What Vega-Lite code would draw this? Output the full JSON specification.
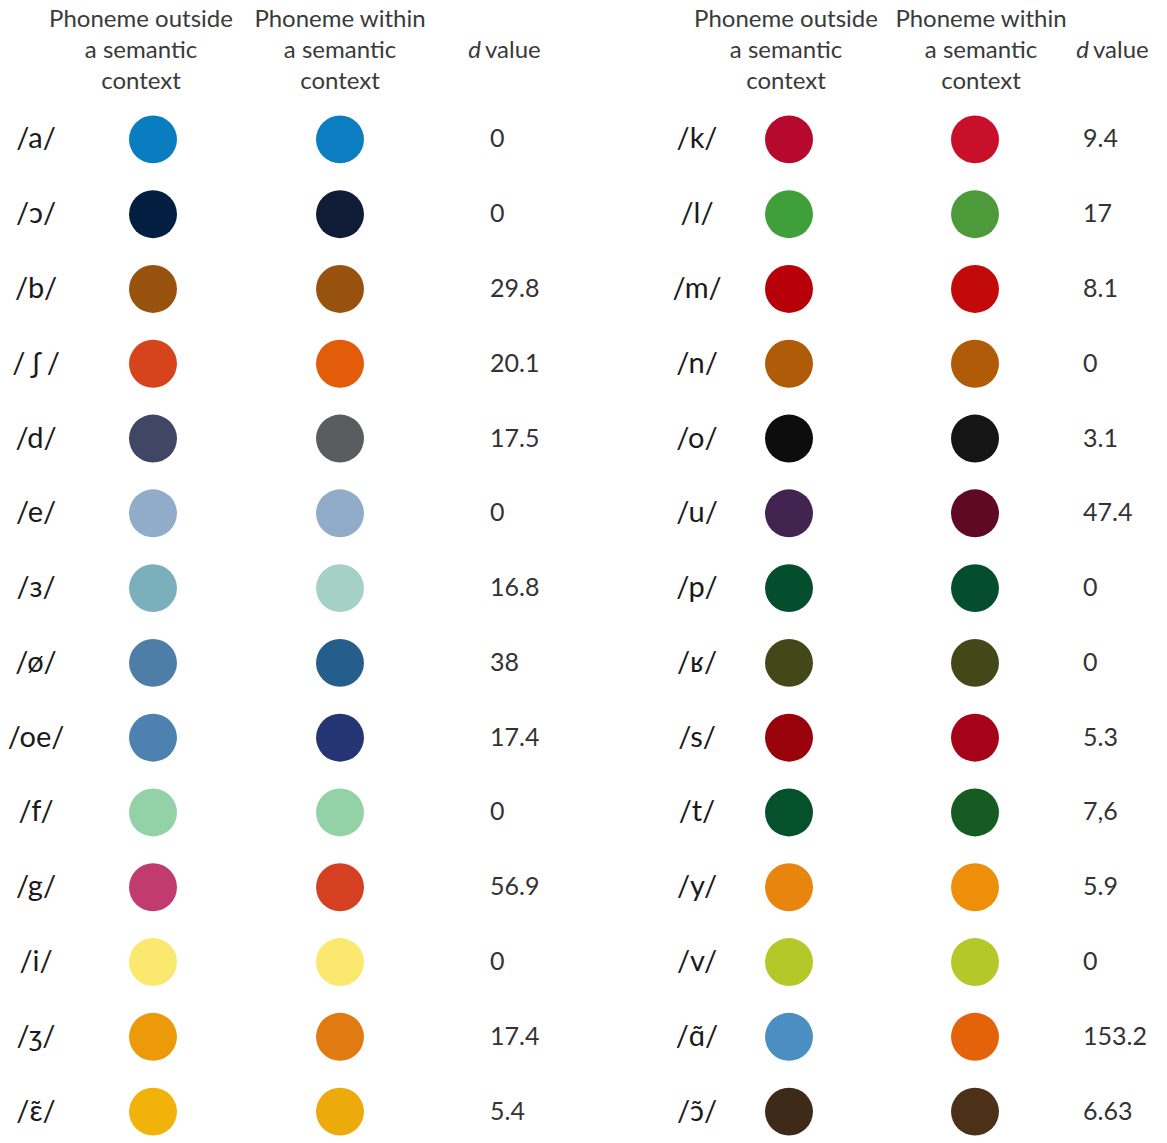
{
  "$schema": "https://vega.github.io/schema/vega-lite/v6.json",
  "padding": 0,
  "background": "white",
  "config": {"view": {"stroke": null}, "text": {"font": "Lato"}},
  "datasets": {
    "phon": [
      {"side": "L", "row": 1, "phoneme": "/a/", "d": "0"},
      {"side": "L", "row": 2, "phoneme": "/ɔ/", "d": "0"},
      {"side": "L", "row": 3, "phoneme": "/b/", "d": "29.8"},
      {"side": "L", "row": 4, "phoneme": "/ ʃ /", "d": "20.1"},
      {"side": "L", "row": 5, "phoneme": "/d/", "d": "17.5"},
      {"side": "L", "row": 6, "phoneme": "/e/", "d": "0"},
      {"side": "L", "row": 7, "phoneme": "/ɜ/", "d": "16.8"},
      {"side": "L", "row": 8, "phoneme": "/ø/", "d": "38"},
      {"side": "L", "row": 9, "phoneme": "/oe/", "d": "17.4"},
      {"side": "L", "row": 10, "phoneme": "/f/", "d": "0"},
      {"side": "L", "row": 11, "phoneme": "/g/", "d": "56.9"},
      {"side": "L", "row": 12, "phoneme": "/i/", "d": "0"},
      {"side": "L", "row": 13, "phoneme": "/ʒ/", "d": "17.4"},
      {"side": "L", "row": 14, "phoneme": "/ɛ̃/", "d": "5.4"},
      {"side": "R", "row": 1, "phoneme": "/k/", "d": "9.4"},
      {"side": "R", "row": 2, "phoneme": "/l/", "d": "17"},
      {"side": "R", "row": 3, "phoneme": "/m/", "d": "8.1"},
      {"side": "R", "row": 4, "phoneme": "/n/", "d": "0"},
      {"side": "R", "row": 5, "phoneme": "/o/", "d": "3.1"},
      {"side": "R", "row": 6, "phoneme": "/u/", "d": "47.4"},
      {"side": "R", "row": 7, "phoneme": "/p/", "d": "0"},
      {"side": "R", "row": 8, "phoneme": "/ʁ/", "d": "0"},
      {"side": "R", "row": 9, "phoneme": "/s/", "d": "5.3"},
      {"side": "R", "row": 10, "phoneme": "/t/", "d": "7,6"},
      {"side": "R", "row": 11, "phoneme": "/y/", "d": "5.9"},
      {"side": "R", "row": 12, "phoneme": "/v/", "d": "0"},
      {"side": "R", "row": 13, "phoneme": "/ɑ̃/", "d": "153.2"},
      {"side": "R", "row": 14, "phoneme": "/ɔ̃/", "d": "6.63"}
    ],
    "head": [
      {"col": "L_out", "line": 1, "text": "Phoneme outside"},
      {"col": "L_out", "line": 2, "text": "a semantic"},
      {"col": "L_out", "line": 3, "text": "context"},
      {"col": "L_in", "line": 1, "text": "Phoneme within"},
      {"col": "L_in", "line": 2, "text": "a semantic"},
      {"col": "L_in", "line": 3, "text": "context"},
      {"col": "L_d", "line": 2, "text": "value"},
      {"col": "R_out", "line": 1, "text": "Phoneme outside"},
      {"col": "R_out", "line": 2, "text": "a semantic"},
      {"col": "R_out", "line": 3, "text": "context"},
      {"col": "R_in", "line": 1, "text": "Phoneme within"},
      {"col": "R_in", "line": 2, "text": "a semantic"},
      {"col": "R_in", "line": 3, "text": "context"},
      {"col": "R_d", "line": 2, "text": "value"}
    ],
    "none": []
  },
  "spacing": 0,
  "resolve": {"scale": {"color": "independent"}},
  "vconcat": [
    {
      "spacing": 0,
      "bounds": "flush",
      "hconcat": [
        {
          "width": 282, "height": 102,
          "data": {"name": "head"},
          "transform": [{"filter": "datum.col === 'L_out'"}],
          "mark": {"type": "text", "fontSize": 24, "color": "#3a3a3a", "baseline": "middle"},
          "encoding": {
            "y": {"field": "line", "type": "ordinal", "scale": {"domain": [1, 2, 3], "padding": 0.645}, "axis": null},
            "text": {"field": "text"}
          }
        },
        {
          "width": 116, "height": 102,
          "data": {"name": "head"},
          "transform": [{"filter": "datum.col === 'L_in'"}],
          "mark": {"type": "text", "fontSize": 24, "color": "#3a3a3a", "baseline": "middle"},
          "encoding": {
            "y": {"field": "line", "type": "ordinal", "scale": {"domain": [1, 2, 3], "padding": 0.645}, "axis": null},
            "text": {"field": "text"}
          }
        },
        {
          "width": 170, "height": 102,
          "data": {"name": "head"},
          "transform": [{"filter": "datum.col === 'L_d'"}],
          "layer": [
            {
              "mark": {"type": "text", "fontSize": 24, "color": "#3a3a3a", "baseline": "middle", "align": "right", "dx": -2, "fontStyle": "italic"},
              "encoding": {
                "y": {"field": "line", "type": "ordinal", "scale": {"domain": [1, 2, 3], "padding": 0.645}, "axis": null},
                "text": {"value": "d"}
              }
            },
            {
              "mark": {"type": "text", "fontSize": 24, "color": "#3a3a3a", "baseline": "middle", "align": "left", "dx": 2},
              "encoding": {
                "y": {"field": "line", "type": "ordinal", "scale": {"domain": [1, 2, 3], "padding": 0.645}, "axis": null},
                "text": {"field": "text"}
              }
            }
          ]
        },
        {
          "width": 82, "height": 102,
          "data": {"name": "none"},
          "mark": "point"
        },
        {
          "width": 272, "height": 102,
          "data": {"name": "head"},
          "transform": [{"filter": "datum.col === 'R_out'"}],
          "mark": {"type": "text", "fontSize": 24, "color": "#3a3a3a", "baseline": "middle"},
          "encoding": {
            "y": {"field": "line", "type": "ordinal", "scale": {"domain": [1, 2, 3], "padding": 0.645}, "axis": null},
            "text": {"field": "text"}
          }
        },
        {
          "width": 118, "height": 102,
          "data": {"name": "head"},
          "transform": [{"filter": "datum.col === 'R_in'"}],
          "mark": {"type": "text", "fontSize": 24, "color": "#3a3a3a", "baseline": "middle"},
          "encoding": {
            "y": {"field": "line", "type": "ordinal", "scale": {"domain": [1, 2, 3], "padding": 0.645}, "axis": null},
            "text": {"field": "text"}
          }
        },
        {
          "width": 102, "height": 102,
          "data": {"name": "head"},
          "transform": [{"filter": "datum.col === 'R_d'"}],
          "layer": [
            {
              "mark": {"type": "text", "fontSize": 24, "color": "#3a3a3a", "baseline": "middle", "align": "right", "dx": -2, "fontStyle": "italic"},
              "encoding": {
                "y": {"field": "line", "type": "ordinal", "scale": {"domain": [1, 2, 3], "padding": 0.645}, "axis": null},
                "text": {"value": "d"}
              }
            },
            {
              "mark": {"type": "text", "fontSize": 24, "color": "#3a3a3a", "baseline": "middle", "align": "left", "dx": 2},
              "encoding": {
                "y": {"field": "line", "type": "ordinal", "scale": {"domain": [1, 2, 3], "padding": 0.645}, "axis": null},
                "text": {"field": "text"}
              }
            }
          ]
        }
      ]
    },
    {
      "spacing": 0,
      "bounds": "flush",
      "resolve": {"scale": {"color": "independent"}},
      "hconcat": [
        {
          "width": 72, "height": 1047,
          "data": {"name": "phon"},
          "transform": [{"filter": "datum.side === 'L'"}],
          "mark": {"type": "text", "fontSize": 29, "color": "#1a1a1a", "baseline": "middle"},
          "encoding": {
            "y": {"field": "row", "type": "ordinal", "scale": {"domain": [1,2,3,4,5,6,7,8,9,10,11,12,13,14]}, "axis": null},
            "text": {"field": "phoneme"}
          }
        },
        {
          "width": 162, "height": 1047,
          "data": {"name": "phon"},
          "transform": [{"filter": "datum.side === 'L'"}],
          "mark": {"type": "circle", "size": 2300, "opacity": 1},
          "encoding": {
            "y": {"field": "row", "type": "ordinal", "scale": {"domain": [1,2,3,4,5,6,7,8,9,10,11,12,13,14]}, "axis": null},
            "color": {
              "field": "phoneme", "type": "nominal", "legend": null,
              "scale": {
                "domain": ["/a/", "/ɔ/", "/b/", "/ ʃ /", "/d/", "/e/", "/ɜ/", "/ø/", "/oe/", "/f/", "/g/", "/i/", "/ʒ/", "/ɛ̃/"],
                "range": ["#0A7DC0", "#021E40", "#97530D", "#D6441E", "#404663", "#90ACC8", "#7BAFBC", "#4E7EA7", "#4C81B0", "#93D2A6", "#C13B70", "#FAE96E", "#EC9A0A", "#F1B30A"]
              }
            }
          }
        },
        {
          "width": 212, "height": 1047,
          "data": {"name": "phon"},
          "transform": [{"filter": "datum.side === 'L'"}],
          "mark": {"type": "circle", "size": 2300, "opacity": 1},
          "encoding": {
            "y": {"field": "row", "type": "ordinal", "scale": {"domain": [1,2,3,4,5,6,7,8,9,10,11,12,13,14]}, "axis": null},
            "color": {
              "field": "phoneme", "type": "nominal", "legend": null,
              "scale": {
                "domain": ["/a/", "/ɔ/", "/b/", "/ ʃ /", "/d/", "/e/", "/ɜ/", "/ø/", "/oe/", "/f/", "/g/", "/i/", "/ʒ/", "/ɛ̃/"],
                "range": ["#0B7DC0", "#101B35", "#97530D", "#E35C0A", "#5B5C60", "#90ACC8", "#A5D0C4", "#255D8B", "#253573", "#93D2A6", "#D53F22", "#FAE96E", "#E27A12", "#ECAA0B"]
              }
            }
          }
        },
        {
          "width": 88, "height": 1047,
          "data": {"name": "phon"},
          "transform": [{"filter": "datum.side === 'L'"}],
          "mark": {"type": "text", "fontSize": 25, "color": "#333333", "baseline": "middle", "align": "left"},
          "encoding": {
            "y": {"field": "row", "type": "ordinal", "scale": {"domain": [1,2,3,4,5,6,7,8,9,10,11,12,13,14]}, "axis": null},
            "text": {"field": "d"}
          }
        },
        {
          "width": 156, "height": 1047,
          "data": {"name": "none"},
          "mark": "point"
        },
        {
          "width": 14, "height": 1047,
          "data": {"name": "phon"},
          "transform": [{"filter": "datum.side === 'R'"}],
          "mark": {"type": "text", "fontSize": 29, "color": "#1a1a1a", "baseline": "middle"},
          "encoding": {
            "y": {"field": "row", "type": "ordinal", "scale": {"domain": [1,2,3,4,5,6,7,8,9,10,11,12,13,14]}, "axis": null},
            "text": {"field": "phoneme"}
          }
        },
        {
          "width": 170, "height": 1047,
          "data": {"name": "phon"},
          "transform": [{"filter": "datum.side === 'R'"}],
          "mark": {"type": "circle", "size": 2300, "opacity": 1},
          "encoding": {
            "y": {"field": "row", "type": "ordinal", "scale": {"domain": [1,2,3,4,5,6,7,8,9,10,11,12,13,14]}, "axis": null},
            "color": {
              "field": "phoneme", "type": "nominal", "legend": null,
              "scale": {
                "domain": ["/k/", "/l/", "/m/", "/n/", "/o/", "/u/", "/p/", "/ʁ/", "/s/", "/t/", "/y/", "/v/", "/ɑ̃/", "/ɔ̃/"],
                "range": ["#B7082E", "#3F9F3B", "#B8000A", "#AF5B07", "#0D0D0D", "#432450", "#054E2D", "#424818", "#99020A", "#04512B", "#E8850F", "#B5C829", "#4B8FC2", "#3E2A19"]
              }
            }
          }
        },
        {
          "width": 202, "height": 1047,
          "data": {"name": "phon"},
          "transform": [{"filter": "datum.side === 'R'"}],
          "mark": {"type": "circle", "size": 2300, "opacity": 1},
          "encoding": {
            "y": {"field": "row", "type": "ordinal", "scale": {"domain": [1,2,3,4,5,6,7,8,9,10,11,12,13,14]}, "axis": null},
            "color": {
              "field": "phoneme", "type": "nominal", "legend": null,
              "scale": {
                "domain": ["/k/", "/l/", "/m/", "/n/", "/o/", "/u/", "/p/", "/ʁ/", "/s/", "/t/", "/y/", "/v/", "/ɑ̃/", "/ɔ̃/"],
                "range": ["#C9102A", "#4C9A3A", "#C20A0A", "#AF5B07", "#151515", "#5D0A22", "#054E2D", "#424818", "#A60318", "#165B22", "#EE8F0A", "#B5C829", "#E4620A", "#4C3118"]
              }
            }
          }
        },
        {
          "width": 14, "height": 1047,
          "data": {"name": "phon"},
          "transform": [{"filter": "datum.side === 'R'"}],
          "mark": {"type": "text", "fontSize": 25, "color": "#333333", "baseline": "middle", "align": "left"},
          "encoding": {
            "y": {"field": "row", "type": "ordinal", "scale": {"domain": [1,2,3,4,5,6,7,8,9,10,11,12,13,14]}, "axis": null},
            "text": {"field": "d"}
          }
        }
      ]
    }
  ]
}
